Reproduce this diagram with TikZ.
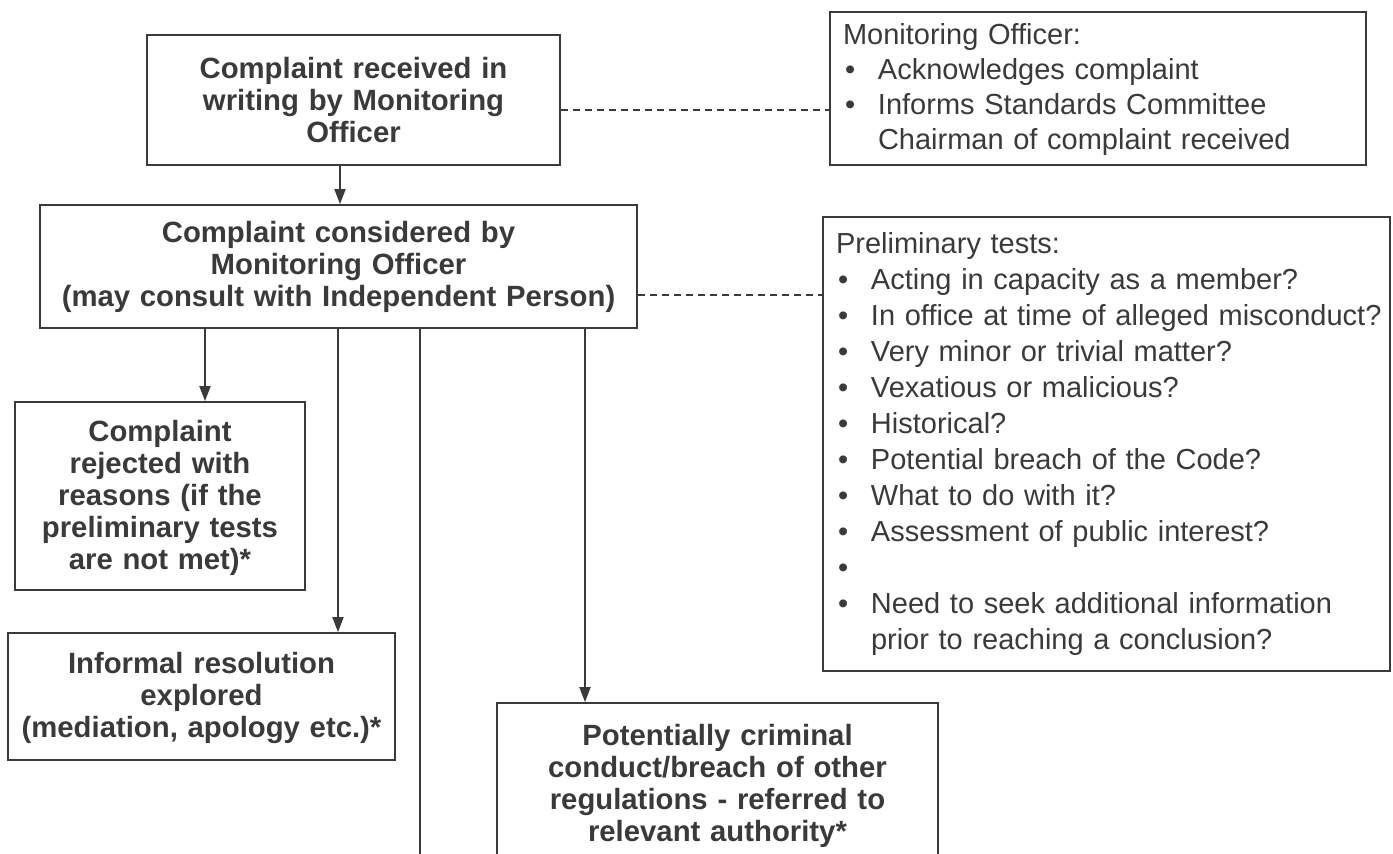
\documentclass[tikz,border=0pt]{standalone}
\usepackage{fontspec}
\setmainfont{Liberation Sans}
\usetikzlibrary{arrows.meta}
\definecolor{ink}{HTML}{3A3A3A}
\newcommand{\bl}{\makebox[35pt][l]{\hspace{2pt}\textbullet}}
\newcommand{\nob}{\hspace*{35pt}}
\AtBeginDocument{\hyphenpenalty=10000 \exhyphenpenalty=10000}
\begin{document}
\begin{tikzpicture}[x=1pt,y=-1pt,
  vfit/.style 2 args={text height=#1pt, text depth=#2pt},
  box/.style={draw=ink, line width=1.8pt, text=ink, align=center, inner sep=0pt,
    font={\fontsize{29.3}{32}\selectfont\bfseries}},
  note/.style={draw=ink, line width=1.5pt, text=ink, align=left, inner xsep=13pt, inner ysep=0pt,
    font={\fontsize{29}{35}\selectfont}},
  notewide/.style={note, font={\fontsize{29}{36}\selectfont}},
  flow/.style={draw=ink, line width=1.8pt, -{Triangle[length=15pt,width=11pt]}},
  plain/.style={draw=ink, line width=1.8pt},
  link/.style={draw=ink, line width=1.5pt, dash pattern=on 7pt off 5pt}]
\useasboundingbox (0,0) rectangle (1393,854);
\fill[white] (0,0) rectangle (1393,854);

\node[box, minimum width=413pt, text width=400pt, vfit={43}{87}] (recv) at (353.5,100)
  {Complaint received in\\writing by Monitoring\\Officer};
\node[box, minimum width=597pt, text width=590pt, vfit={37}{86}] (cons) at (338.5,266.5)
  {Complaint considered by\\Monitoring Officer\\(may consult with Independent Person)};
\node[box, minimum width=290pt, text width=284pt, vfit={39}{149}] (rej) at (160,496)
  {Complaint\\rejected with\\reasons (if the\\preliminary tests\\are not met)*};
\node[box, minimum width=387pt, text width=380pt, vfit={40}{87}] (inf) at (201.5,696.5)
  {Informal resolution\\explored\\(mediation, apology etc.)*};
\node[box, minimum width=441pt, text width=430pt, vfit={42}{110}] (crim) at (717.5,779)
  {Potentially criminal\\conduct/breach of other\\regulations - referred to\\relevant authority*};

\node[note, minimum width=536pt, text width=510pt, vfit={32}{121}] (mo) at (1098,88.5)
  {Monitoring Officer:\\
   \bl\mbox{Acknowledges complaint}\\
   \bl\mbox{Informs Standards Committee}\\
   \nob\mbox{Chairman of complaint received}};
\node[notewide, minimum width=567pt, text width=541pt, vfit={36.5}{417.5}] (pt) at (1106.5,444)
  {Preliminary tests:\\
   \bl\mbox{Acting in capacity as a member?}\\
   \bl\mbox{In office at time of alleged misconduct?}\\
   \bl\mbox{Very minor or trivial matter?}\\
   \bl\mbox{Vexatious or malicious?}\\
   \bl\mbox{Historical?}\\
   \bl\mbox{Potential breach of the Code?}\\
   \bl\mbox{What to do with it?}\\
   \bl\mbox{Assessment of public interest?}\\
   \bl\\
   \bl\mbox{Need to seek additional information}\\
   \nob\mbox{prior to reaching a conclusion?}};

\coordinate (a1) at (340,0);
\coordinate (a2) at (205,0);
\coordinate (a3) at (338,0);
\coordinate (a4) at (585,0);
\coordinate (tail) at (420,854);
\coordinate (d1) at (0,110);
\coordinate (d2) at (0,295);

\draw[flow] (a1 |- recv.south) -- (a1 |- cons.north);
\draw[flow] (a2 |- cons.south) -- (a2 |- rej.north);
\draw[flow] (a3 |- cons.south) -- (a3 |- inf.north);
\draw[plain] (tail |- cons.south) -- (tail);
\draw[flow] (a4 |- cons.south) -- (a4 |- crim.north);
\draw[link] (recv.east |- d1) -- (mo.west |- d1);
\draw[link] (cons.east |- d2) -- (pt.west |- d2);
\end{tikzpicture}
\end{document}
